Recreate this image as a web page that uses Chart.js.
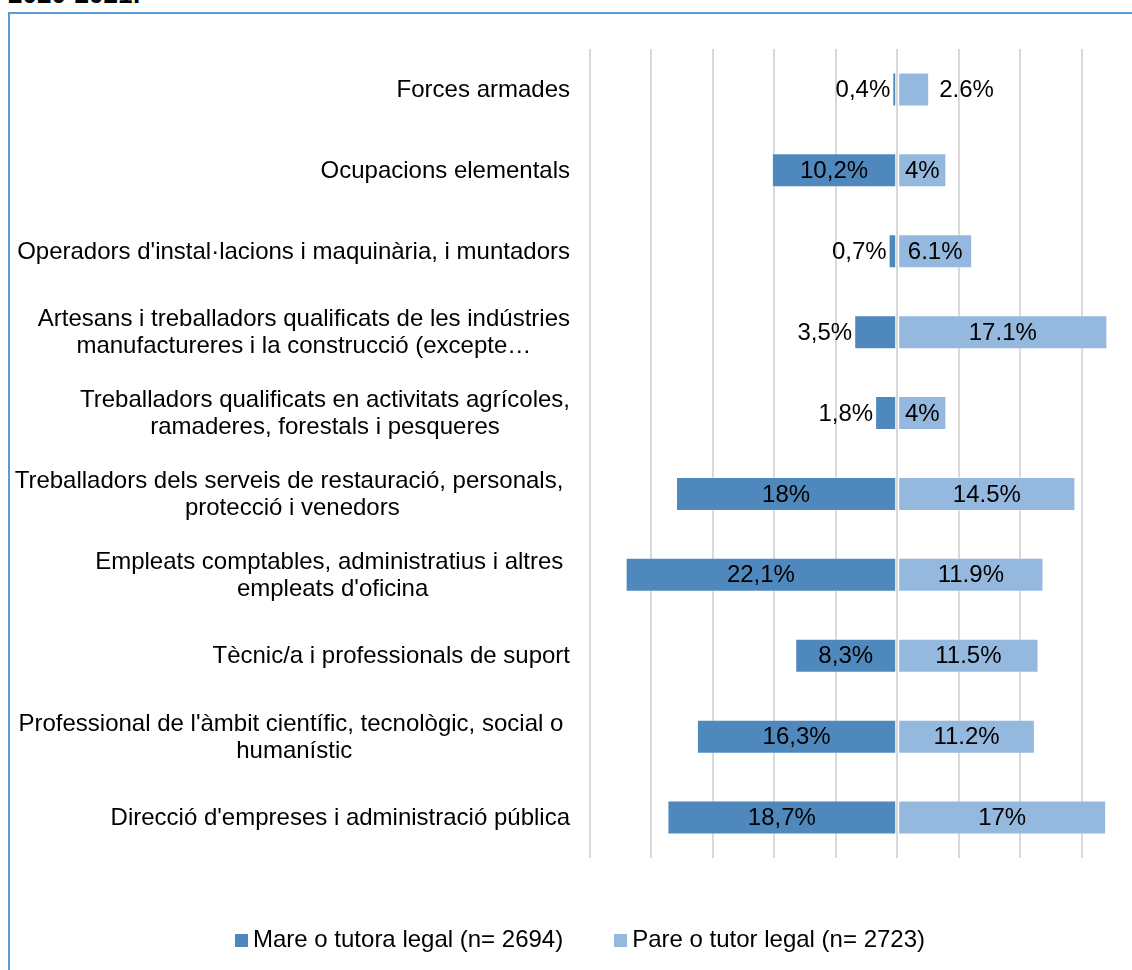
<!DOCTYPE html>
<html><head><meta charset="utf-8">
<script src="https://cdn.jsdelivr.net/npm/chart.js@4.4.1/dist/chart.umd.min.js"></script>
<style>
html,body{margin:0;padding:0;background:#fff;overflow:hidden;width:1132px;height:970px;}
#title{position:absolute;left:8px;top:-19px;font:bold 26px "Liberation Sans",Arial,sans-serif;line-height:26px;color:#000;white-space:nowrap;}
#frame{position:absolute;left:8px;top:12px;width:1300px;height:1100px;border-left:2px solid #5B9BD5;border-top:2px solid #5B9BD5;box-sizing:border-box;}
#c{position:absolute;left:0;top:0;}
</style></head>
<body>
<div id="title">2020-2021:</div>
<div id="frame"></div>
<canvas id="c" width="1160" height="975"></canvas>
<script>
// ---- data ----
const categories = [
  "Forces armades",
  "Ocupacions elementals",
  "Operadors d'instal·lacions i maquinària, i muntadors",
  ["Artesans i treballadors qualificats de les indústries", "manufactureres i la construcció (excepte…"],
  ["Treballadors qualificats en activitats agrícoles,", "ramaderes, forestals i pesqueres"],
  ["Treballadors dels serveis de restauració, personals, ", "protecció i venedors"],
  ["Empleats comptables, administratius i altres ", "empleats d'oficina"],
  "Tècnic/a i professionals de suport",
  ["Professional de l'àmbit científic, tecnològic, social o ", "humanístic"],
  "Direcció d'empreses i administració pública"
];
const mareValues = [0.4, 10.2, 0.7, 3.5, 1.8, 18, 22.1, 8.3, 16.3, 18.7];
const pareValues = [2.6, 4, 6.1, 17.1, 4, 14.5, 11.9, 11.5, 11.2, 17];
const seriesNames = ["Mare o tutora legal (n= 2694)", "Pare o tutor legal (n= 2723)"];
const seriesColors = ["#4F88BC", "#95B8DF"];
const axisMin = -25, axisMax = 20, axisStep = 5;

const FONT = '"Liberation Sans", Arial, sans-serif';
Chart.defaults.font.family = FONT;
Chart.defaults.font.size = 24;
Chart.defaults.color = '#000';

const mareLabel = v => String(v).replace('.', ',') + '%';
const pareLabel = v => String(v) + '%';

const customDraw = {
  id: 'customDraw',
  afterDatasetsDraw(chart) {
    const ctx = chart.ctx;
    const xs = chart.scales.x, area = chart.chartArea;
    const x0 = Math.round(xs.getPixelForValue(0));
    ctx.save();
    ctx.strokeStyle = '#d9d9d9';
    ctx.lineWidth = 2;
    ctx.beginPath();
    ctx.moveTo(x0, area.top);
    ctx.lineTo(x0, area.bottom);
    ctx.stroke();
    ctx.font = '24px ' + FONT;
    ctx.fillStyle = '#000';
    ctx.textBaseline = 'middle';
    chart.data.datasets.forEach((ds, di) => {
      const meta = chart.getDatasetMeta(di);
      meta.data.forEach((bar, i) => {
        const txt = di === 0 ? mareLabel(mareValues[i]) : pareLabel(pareValues[i]);
        const p = bar.getProps(['x', 'base', 'y'], true);
        const w = Math.abs(p.x - p.base);
        const tw = ctx.measureText(txt).width;
        const ty = p.y + 1;
        if (tw + 6 <= w) {
          ctx.textAlign = 'center';
          ctx.fillText(txt, (p.x + p.base) / 2, ty);
        } else if (di === 0) {
          ctx.textAlign = 'right';
          ctx.fillText(txt, Math.min(p.x, p.base) - 2, ty);
        } else {
          ctx.textAlign = 'left';
          ctx.fillText(txt, Math.max(p.x, p.base) + 10, ty);
        }
      });
    });
    ctx.restore();
  },
  afterDraw(chart) {
    const ctx = chart.ctx;
    const ys = chart.scales.y;
    const right = ys.right - 20;
    const lh = 27;
    ctx.save();
    ctx.font = '24px ' + FONT;
    ctx.fillStyle = '#000';
    ctx.textAlign = 'center';
    ctx.textBaseline = 'middle';
    categories.forEach((lab, i) => {
      const lines = Array.isArray(lab) ? lab : [lab];
      const yc = ys.getPixelForTick(i);
      const maxW = Math.max(...lines.map(l => ctx.measureText(l).width));
      const cx = right - maxW / 2;
      lines.forEach((l, k) => {
        ctx.fillText(l, cx, yc + 1 + (k - (lines.length - 1) / 2) * lh);
      });
    });
    // legend
    const box = 13, gapText = 5, gapItems = 51;
    const items = chart.data.datasets.map(d => ({ text: d.label, color: d.backgroundColor }));
    const widths = items.map(it => box + gapText + ctx.measureText(it.text).width);
    const total = widths.reduce((a, b) => a + b, 0) + gapItems * (items.length - 1);
    let x = chart.width / 2 - total / 2;
    const yc = 940;
    ctx.textAlign = 'left';
    items.forEach((it, k) => {
      ctx.fillStyle = it.color;
      ctx.fillRect(Math.round(x), Math.round(yc - box / 2), box, box);
      ctx.fillStyle = '#000';
      ctx.fillText(it.text, x + box + gapText, yc);
      x += widths[k] + gapItems;
    });
    ctx.restore();
  }
};

new Chart(document.getElementById('c'), {
  type: 'bar',
  data: {
    labels: categories,
    datasets: [
      { label: seriesNames[0], data: mareValues.map(v => -v), backgroundColor: seriesColors[0],
        borderColor: 'rgba(255,255,255,0.35)', borderWidth: 1, borderSkipped: false,
        categoryPercentage: 0.42, barPercentage: 1 },
      { label: seriesNames[1], data: pareValues, backgroundColor: seriesColors[1],
        borderColor: 'rgba(255,255,255,0.35)', borderWidth: 1, borderSkipped: false,
        categoryPercentage: 0.42, barPercentage: 1 }
    ]
  },
  options: {
    responsive: false,
    animation: false,
    indexAxis: 'y',
    layout: { padding: { top: 49, left: 0, right: 17, bottom: 93 } },
    scales: {
      x: {
        type: 'linear', min: axisMin, max: axisMax, stacked: true,
        ticks: { display: false, stepSize: axisStep },
        grid: { color: '#d9d9d9', lineWidth: 2, drawTicks: false },
        border: { display: false },
        afterFit(s) { s.height = 24; }
      },
      y: {
        stacked: true,
        ticks: { display: false },
        grid: { display: false },
        border: { display: false },
        afterFit(s) { s.width = 590; }
      }
    },
    plugins: {
      legend: { display: false },
      tooltip: { enabled: false }
    }
  },
  plugins: [customDraw]
});
</script>
</body></html>
